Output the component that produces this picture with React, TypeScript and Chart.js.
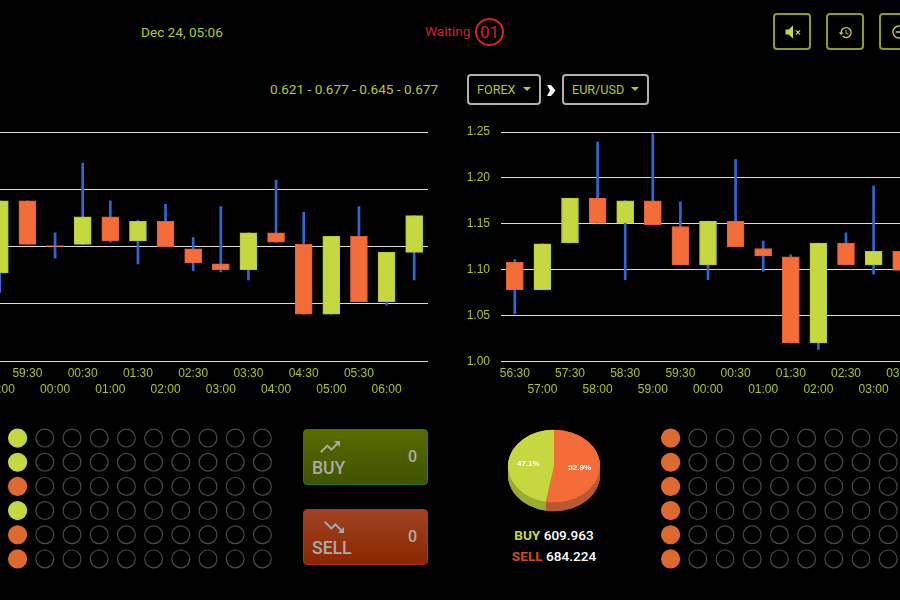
import React, { useEffect, useRef } from 'react';
import { Chart, registerables, ChartConfiguration, Plugin } from 'chart.js';
Chart.register(...registerables);

Chart.defaults.font.family = '"Liberation Sans", Arial, sans-serif';

// left market (off-page part of it is left out)
const leftTimes = ['59:00', '59:30', '00:00', '00:30', '01:00', '01:30', '02:00', '02:30', '03:00', '03:30', '04:00', '04:30', '05:00', '05:30', '06:00', ''];
const leftOpen = [0.627, 0.690, 0.651, 0.652, 0.676, 0.655, 0.672, 0.648, 0.635, 0.630, 0.662, 0.652, 0.591, 0.659, 0.602, 0.645];
const leftClose = [0.690, 0.652, 0.650, 0.676, 0.655, 0.672, 0.650, 0.636, 0.630, 0.662, 0.654, 0.591, 0.659, 0.602, 0.645, 0.677];
const leftHigh = [0.690, 0.690, 0.662, 0.723, 0.690, 0.673, 0.687, 0.658, 0.685, 0.662, 0.708, 0.680, 0.659, 0.685, 0.645, 0.677];
const leftLow = [0.610, 0.652, 0.640, 0.652, 0.654, 0.635, 0.650, 0.629, 0.628, 0.621, 0.654, 0.591, 0.591, 0.602, 0.599, 0.621];

// right market, EUR/USD
const rightTimes = ['56:30', '57:00', '57:30', '58:00', '58:30', '59:00', '59:30', '00:00', '00:30', '01:00', '01:30', '02:00', '02:30', '03:00', '03:30'];
const rightOpen = [1.108, 1.078, 1.129, 1.178, 1.151, 1.175, 1.147, 1.105, 1.153, 1.123, 1.114, 1.020, 1.129, 1.105, 1.120];
const rightClose = [1.078, 1.128, 1.178, 1.151, 1.175, 1.149, 1.105, 1.153, 1.125, 1.115, 1.020, 1.129, 1.105, 1.120, 1.099];
const rightHigh = [1.111, 1.128, 1.178, 1.239, 1.175, 1.248, 1.174, 1.153, 1.220, 1.131, 1.116, 1.129, 1.140, 1.191, 1.120];
const rightLow = [1.052, 1.078, 1.129, 1.151, 1.089, 1.149, 1.105, 1.089, 1.125, 1.098, 1.020, 1.013, 1.105, 1.095, 1.099];

const sideNames = ['SELL', 'BUY'];
const sideTotals = [684.224, 609.963];

// first column of each result board, the other columns are still empty
const leftResults = ['buy', 'buy', 'sell', 'buy', 'sell', 'sell'];
const rightResults = ['sell', 'sell', 'sell', 'sell', 'sell', 'sell'];
const boardColumns = 10;

const LIME = '#c5d83f';
const ORANGE = '#f46c37';
const TEXT = '#a6c61e';
const PAGE_TEXT = '#b0cc28';

const ChartCanvas: React.FC<{ config: () => ChartConfiguration; left: number; top: number; width: number; height: number }> = ({ config, left, top, width, height }) => {
  const ref = useRef<HTMLCanvasElement>(null);
  useEffect(() => {
    if (!ref.current) return;
    const chart = new Chart(ref.current, config());
    return () => chart.destroy();
  }, []);
  return <canvas ref={ref} width={width} height={height} style={{ position: 'absolute', left, top, width, height, display: 'block' }} />;
};

// the plot area has to stay where it is, whatever the tick labels measure
const noLabelPadding = (axis: any) => {
  axis.paddingTop = 0;
  axis.paddingBottom = 0;
  axis.paddingLeft = 0;
  axis.paddingRight = 0;
};

const candleConfig = (times: string[], open: number[], close: number[], high: number[], low: number[], yMin: number, yMax: number, yLabels: boolean): ChartConfiguration => ({
  type: 'bar',
  data: {
    labels: times,
    datasets: [
      {
        data: open.map((o, i) => [o, close[i]]) as any,
        grouped: false,
        barThickness: 17,
        borderWidth: 1,
        borderSkipped: false,
        backgroundColor: open.map((o, i) => (close[i] > o ? LIME : ORANGE)),
        borderColor: open.map((o, i) => (close[i] > o ? '#b4c636' : '#e0602f')),
      } as any,
      {
        data: low.map((l, i) => [l, high[i]]) as any,
        grouped: false,
        barThickness: 2,
        borderWidth: 0,
        backgroundColor: '#2f67d8',
      } as any,
    ],
  },
  options: {
    responsive: false,
    animation: false,
    layout: { padding: { top: 12 }, autoPadding: false },
    plugins: { legend: { display: false }, tooltip: { enabled: false } },
    scales: {
      x: {
        afterFit: (axis: any) => { axis.height = 38.7; noLabelPadding(axis); },
        grid: { display: false },
        border: { display: false },
        ticks: {
          autoSkip: false,
          maxRotation: 0,
          padding: -3,
          color: TEXT,
          font: { size: 12, lineHeight: 1.28 },
          // labels alternate between two rows, same row as the :30 marks
          callback: function (this: any, value: any) {
            const label = this.getLabelForValue(value);
            return label.endsWith(':30') ? [label, ''] : ['', label];
          },
        },
      },
      y: {
        min: yMin,
        max: yMax,
        afterFit: (axis: any) => { axis.width = yLabels ? 41 : 0; noLabelPadding(axis); },
        grid: { color: '#dcdcdc', lineWidth: 1, drawTicks: false },
        border: { display: false },
        ticks: {
          display: yLabels,
          stepSize: 0.05,
          padding: 11,
          color: TEXT,
          font: { size: 12 },
          callback: (value: any) => Number(value).toFixed(2),
        },
      },
    },
  },
});

const boardConfig = (results: string[]): ChartConfiguration => {
  const points: { x: number; y: number }[] = [];
  const fills: string[] = [];
  const radii: number[] = [];
  const borders: string[] = [];
  results.forEach((result, row) => {
    for (let col = 0; col < boardColumns; col++) {
      points.push({ x: col, y: row });
      const filled = col === 0;
      fills.push(filled ? (result === 'buy' ? LIME : '#df6a30') : 'transparent');
      borders.push(filled ? (result === 'buy' ? LIME : '#df6a30') : '#4a4a4a');
      radii.push(filled ? 9 : 8.9);
    }
  });
  return {
    type: 'scatter',
    data: {
      datasets: [{
        data: points,
        pointRadius: radii,
        pointBackgroundColor: fills,
        pointBorderColor: borders,
        pointBorderWidth: 1.2,
        clip: false,
      } as any],
    },
    options: {
      responsive: false,
      animation: false,
      layout: { autoPadding: false },
      plugins: { legend: { display: false }, tooltip: { enabled: false } },
      scales: {
        x: { display: false, min: -0.5, max: boardColumns - 0.5 },
        y: { display: false, min: -0.5, max: results.length - 0.5, reverse: true },
      },
    },
  };
};

const PIE_SQUASH = 0.79;
const PIE_DEPTH = 9;
const pieSideColors = ['#b95a33', '#9dab33'];

// tilts the flat pie and gives it a side wall
const tiltedPie: Plugin = {
  id: 'tiltedPie',
  beforeDatasetsDraw(chart) {
    const { ctx } = chart;
    const arcs = chart.getDatasetMeta(0).data as any[];
    const cx = arcs[0].x;
    const cy = arcs[0].y;
    ctx.save();
    ctx.translate(cx, cy);
    ctx.scale(1, PIE_SQUASH);
    ctx.translate(-cx, -cy);
    for (let d = PIE_DEPTH / PIE_SQUASH; d > 0; d -= 0.5) {
      arcs.forEach((arc, i) => {
        ctx.beginPath();
        ctx.moveTo(cx, cy + d);
        ctx.arc(cx, cy + d, arc.outerRadius, arc.startAngle, arc.endAngle);
        ctx.closePath();
        ctx.fillStyle = pieSideColors[i];
        ctx.fill();
      });
    }
  },
  afterDatasetsDraw(chart) {
    const { ctx } = chart;
    ctx.restore();
    const arcs = chart.getDatasetMeta(0).data as any[];
    const values = chart.data.datasets[0].data as number[];
    const total = values.reduce((a, b) => a + b, 0);
    ctx.save();
    ctx.fillStyle = '#fff';
    ctx.font = 'bold 8px "Liberation Sans", Arial, sans-serif';
    ctx.textAlign = 'center';
    ctx.textBaseline = 'middle';
    arcs.forEach((arc, i) => {
      const mid = (arc.startAngle + arc.endAngle) / 2;
      const r = arc.outerRadius * 0.56;
      ctx.fillText(((values[i] / total) * 100).toFixed(1) + '%', arc.x + Math.cos(mid) * r, arc.y + Math.sin(mid) * r * PIE_SQUASH);
    });
    ctx.restore();
  },
};

const pieConfig = (): ChartConfiguration => ({
  type: 'pie',
  data: {
    labels: sideNames,
    datasets: [{ data: sideTotals, backgroundColor: [ORANGE, LIME], borderWidth: 0, clip: false } as any],
  },
  options: {
    responsive: false,
    animation: false,
    layout: { padding: 4 },
    plugins: { legend: { display: false }, tooltip: { enabled: false } },
  },
  plugins: [tiltedPie],
});

const Text: React.FC<{ left: number; top: number; size: number; color: string; weight?: number; children: React.ReactNode }> = ({ left, top, size, color, weight = 400, children }) => (
  <div style={{ position: 'absolute', left, top, fontSize: size, lineHeight: '20px', color, fontWeight: weight, whiteSpace: 'nowrap' }}>{children}</div>
);

const IconButton: React.FC<{ left: number; path: string; size: number; iconLeft: number; iconTop: number }> = ({ left, path, size, iconLeft, iconTop }) => (
  <div style={{ position: 'absolute', left, top: 13, width: 38, height: 37, boxSizing: 'border-box', border: '2px solid #84a024', borderRadius: 4 }}>
    <svg width={size} height={size} viewBox="0 0 24 24" style={{ position: 'absolute', left: iconLeft - 2, top: iconTop - 2 }}><path d={path} fill={LIME} /></svg>
  </div>
);

const Select: React.FC<{ left: number; width: number; label: string }> = ({ left, width, label }) => (
  <div style={{ position: 'absolute', left, top: 74, width, height: 31, boxSizing: 'border-box', border: '2px solid #b0b0b0', borderRadius: 4, color: PAGE_TEXT, fontSize: 12.6, fontWeight: 400, lineHeight: '27px', paddingLeft: 8 }}>
    {label}
    <span style={{ position: 'absolute', right: 8, top: 11, width: 0, height: 0, borderLeft: '4px solid transparent', borderRight: '4px solid transparent', borderTop: `4px solid ${PAGE_TEXT}` }} />
  </div>
);

const TradeButton: React.FC<{ top: number; label: string; background: string; border: string; path: string; iconLeft: number }> = ({ top, label, background, border, path, iconLeft }) => (
  <div style={{ position: 'absolute', left: 303, top, width: 125, height: 56, boxSizing: 'border-box', background, border: `1px solid ${border}`, borderRadius: 4 }}>
    <svg width="24" height="24" viewBox="0 0 24 24" style={{ position: 'absolute', left: iconLeft, top: 5 }}><path d={path} fill="#a8a8a8" /></svg>
    <div style={{ position: 'absolute', left: 8, top: 27, fontSize: 17.6, lineHeight: '22px', fontWeight: 500, color: '#ababab' }}>{label}</div>
    <div style={{ position: 'absolute', right: 10, top: 16, fontSize: 16, lineHeight: '22px', fontWeight: 500, color: '#ababab' }}>0</div>
  </div>
);

const App: React.FC = () => (
  <div style={{ position: 'fixed', left: 0, top: 0, width: 900, height: 600, overflow: 'hidden', background: '#000', fontFamily: 'Roboto, sans-serif' }}>
    <Text left={141} top={22} size={13.6} color={PAGE_TEXT}>Dec 24, 05:06</Text>
    <Text left={425} top={21} size={13.6} color="#d4212a">Waiting</Text>
    <div style={{ position: 'absolute', left: 475, top: 18, width: 29, height: 28, boxSizing: 'border-box', border: '2px solid #d4212a', borderRadius: '50%', color: '#d4212a', fontSize: 17, fontWeight: 400, lineHeight: '24px', textAlign: 'center' }}>01</div>

    <IconButton left={773} size={20} iconLeft={9.5} iconTop={9} path="M3 9v6h4l5 5V4L7 9H3zM15 10.5l1-1 2 2 2-2 1 1-2 2 2 2-1 1-2-2-2 2-1-1 2-2z" />
    <IconButton left={826} size={15} iconLeft={12} iconTop={11.5} path="M13 3a9 9 0 0 0-9 9H1l3.89 3.89.07.14L9 12H6c0-3.87 3.13-7 7-7s7 3.13 7 7-3.13 7-7 7c-1.93 0-3.68-.79-4.94-2.06l-1.42 1.42A8.954 8.954 0 0 0 13 21a9 9 0 0 0 0-18zm-1 5v5l4.28 2.54.72-1.21-3.5-2.08V8H12z" />
    <IconButton left={879} size={16} iconLeft={12} iconTop={11} path="M7 11v2h10v-2H7zm5-9C6.48 2 2 6.48 2 12s4.48 10 10 10 10-4.48 10-10S17.52 2 12 2zm0 18c-4.41 0-8-3.59-8-8s3.59-8 8-8 8 3.59 8 8-3.59 8-8 8z" />

    <Text left={270} top={79} size={13.6} color={PAGE_TEXT}>0.621 - 0.677 - 0.645 - 0.677</Text>
    <Select left={467} width={74} label="FOREX" />
    <svg width="9" height="11" viewBox="0 0 9 11" style={{ position: 'absolute', left: 547, top: 85 }}><path d="M0 0h4l4.5 5.5L4 11H0l3-5.5z" fill="#fff" /></svg>
    <Select left={562} width={87} label="EUR/USD" />

    <ChartCanvas config={() => candleConfig(leftTimes, leftOpen, leftClose, leftHigh, leftLow, 0.55, 0.75, false)} left={-14} top={120} width={442} height={280} />
    <ChartCanvas config={() => candleConfig(rightTimes, rightOpen, rightClose, rightHigh, rightLow, 1, 1.25, true)} left={460} top={120} width={455} height={280} />

    <ChartCanvas config={() => boardConfig(leftResults)} left={4} top={426} width={272} height={145} />
    <ChartCanvas config={() => boardConfig(rightResults)} left={657} top={426} width={272} height={145} />

    <TradeButton top={429} label="BUY" background="linear-gradient(#566c00, #3f5400)" border="#2d7a1e" iconLeft={14} path="M16 6l2.29 2.29-4.88 4.88-4-4L2 16.59 3.41 18l6-6 4 4 6.3-6.29L22 12V6z" />
    <TradeButton top={509} label="SELL" background="linear-gradient(#a04422, #8a2600)" border="#ad3020" iconLeft={18} path="M16 18l2.29-2.29-4.88-4.88-4 4L2 7.41 3.41 6l6 6 4-4 6.3 6.29L22 12v6z" />

    <ChartCanvas config={pieConfig} left={504} top={416} width={100} height={100} />

    <div style={{ position: 'absolute', left: 454, width: 200, top: 525, textAlign: 'center', fontSize: 13.6, lineHeight: '21px', color: '#fff', fontWeight: 500 }}>
      <div><span style={{ color: LIME, fontWeight: 700 }}>{sideNames[1]}</span> {sideTotals[1].toFixed(3)}</div>
      <div><span style={{ color: '#c8501c', fontWeight: 700 }}>{sideNames[0]}</span> {sideTotals[0].toFixed(3)}</div>
    </div>
  </div>
);

export default App;
